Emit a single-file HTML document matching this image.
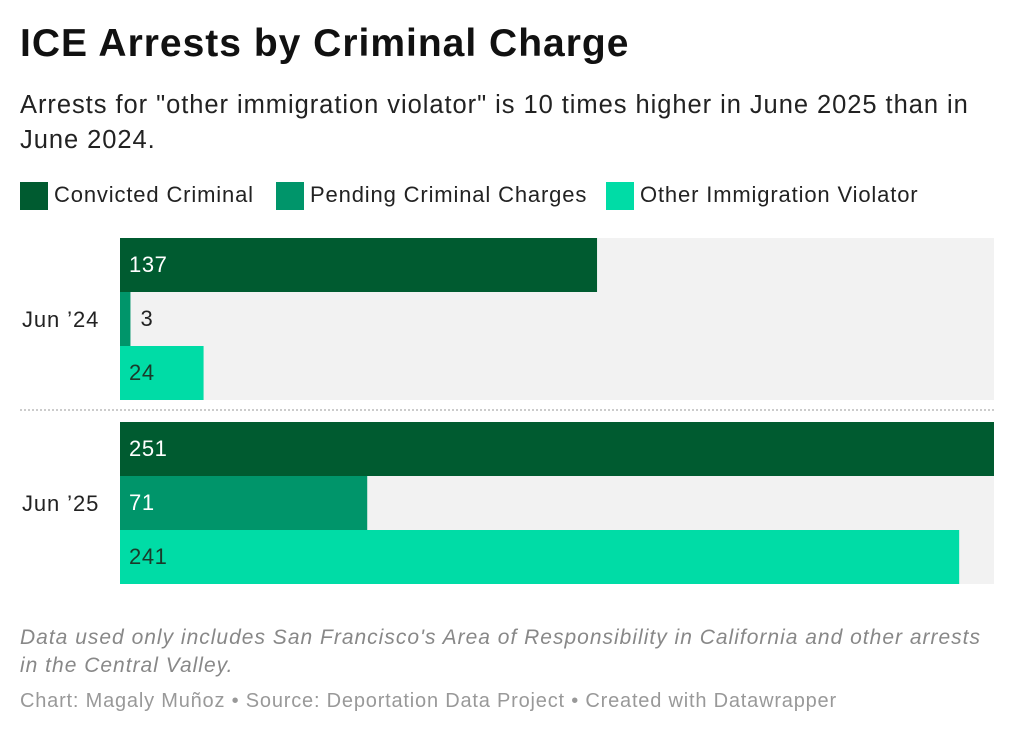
<!DOCTYPE html>
<html><head><meta charset="utf-8"><style>
body{margin:0;width:1016px;height:736px;background:#fff;font-family:"Liberation Sans",sans-serif;position:relative;overflow:hidden}
.t{position:absolute;white-space:nowrap}
</style></head><body>
<div class="t" style="left:20px;top:22px;font-size:39px;font-weight:bold;color:#111;letter-spacing:1.0px">ICE Arrests by Criminal Charge</div>
<div class="t" style="left:20px;top:88px;font-size:25.5px;line-height:35px;color:#222;letter-spacing:0.95px">Arrests for "other immigration violator" is 10 times higher in June 2025 than in<br>June 2024.</div>
<div id="legend"></div>
<svg id="chart" width="1016" height="736" style="position:absolute;left:0;top:0"></svg>
<div class="t" style="left:20px;top:624px;font-size:21px;line-height:28px;font-style:italic;color:#888;letter-spacing:1.0px">Data used only includes San Francisco's Area of Responsibility in California and other arrests<br>in the Central Valley.</div>
<div class="t" style="left:20px;top:690px;font-size:20px;color:#999;letter-spacing:0.8px">Chart: Magaly Muñoz • Source: Deportation Data Project • Created with Datawrapper</div>
<script>
const categories=["Jun ’24","Jun ’25"];
const series=["Convicted Criminal","Pending Criminal Charges","Other Immigration Violator"];
const convicted=[137,251];
const pending=[3,71];
const other=[24,241];
const colors=["#005b30","#00956a","#00dca6"];
const textColors=["#fff","#fff","#1a3a2a"];
const vals=[convicted,pending,other];
const maxV=251;
const x0=120,x1=994,barH=54;
const groupTop=[238,422];
const xs=v=>x0+v/maxV*(x1-x0);
const ns="http://www.w3.org/2000/svg";
const svg=document.getElementById('chart');
function el(t,a){const e=document.createElementNS(ns,t);for(const k in a)e.setAttribute(k,a[k]);svg.appendChild(e);return e;}
const leg=document.getElementById('legend');
const lxs=[20,276,606];
series.forEach((s,i)=>{
 const lx=lxs[i];
 const sw=document.createElement('div');
 
 
 sw.style.cssText=`position:absolute;left:${lx}px;top:182px;width:28px;height:28px;background:${colors[i]}`;
 leg.appendChild(sw);
 const tx=document.createElement('div');
 
 
 tx.className='t';
 tx.style.cssText=`left:${lx+34}px;top:182px;font-size:22px;color:#222;letter-spacing:0.85px`;
 tx.textContent=s;leg.appendChild(tx);
});
categories.forEach((c,g)=>{
 const top=groupTop[g];
 const bg=el('rect',{x:x0,y:top,width:x1-x0,height:barH*3,fill:'#f2f2f2'});
 
 
 const lab=el('text',{x:22,y:top+barH*1.5+8,'font-size':22,fill:'#222','letter-spacing':0.9});
 
 
 lab.textContent=c;
 vals.forEach((arr,i)=>{
  const v=arr[g];const w=xs(v)-x0;
  const r=el('rect',{x:x0,y:top+i*barH,width:w,height:barH,fill:colors[i]});
  
  
  const inside=w>40;
  const t=el('text',{x:inside?x0+9:x0+w+10,y:top+i*barH+34,'font-size':22,'letter-spacing':0.6,fill:inside?textColors[i]:'#222'});
  
  
  t.textContent=v;
 });
});
const d=el('line',{x1:20,x2:994,y1:410,y2:410,stroke:'#ccc','stroke-width':2,'stroke-dasharray':'2,2'});


</script>
</body></html>
